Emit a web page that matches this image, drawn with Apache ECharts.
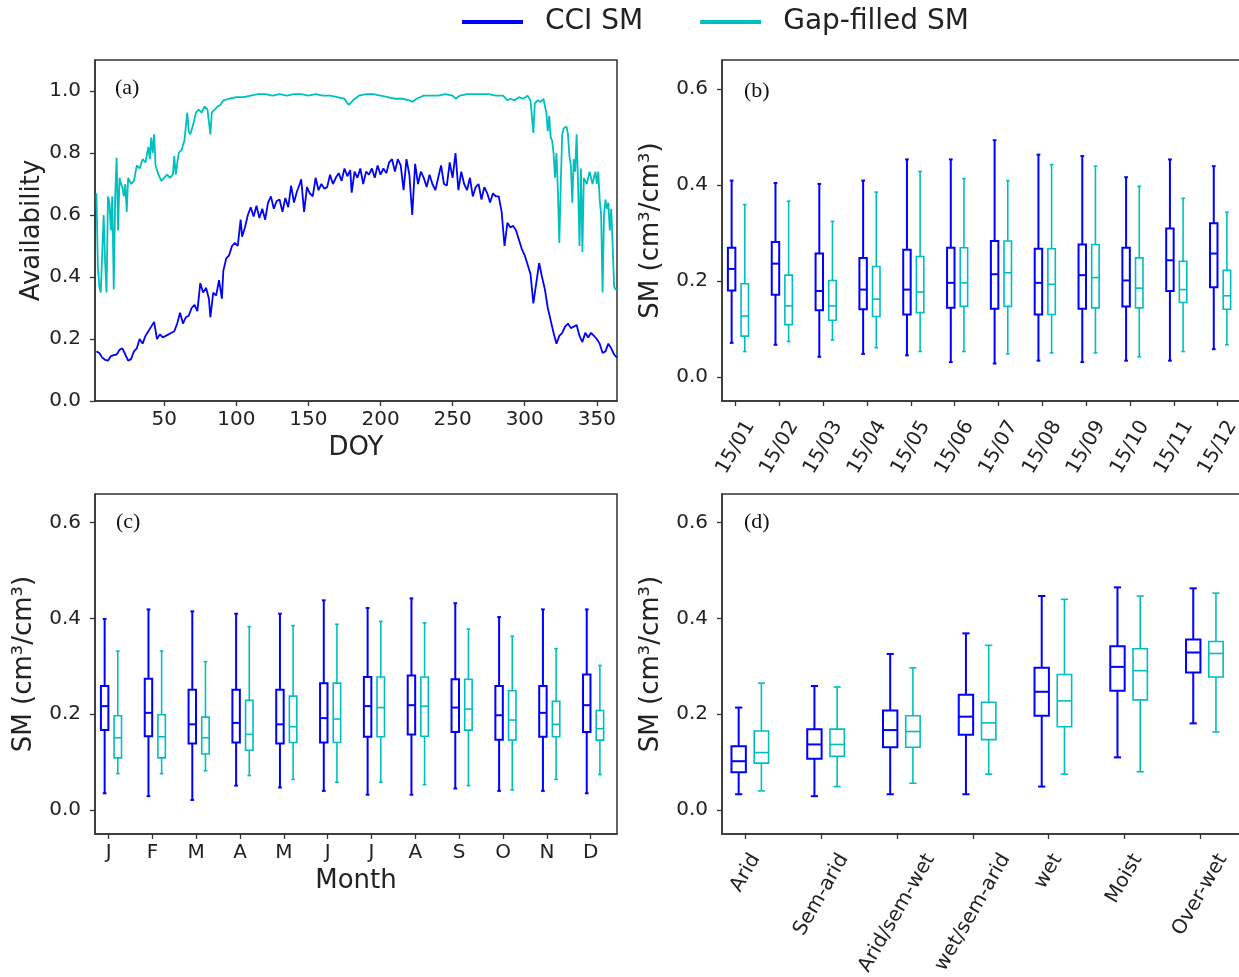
<!DOCTYPE html>
<html lang="en">
<head>
<meta charset="UTF-8">
<title>CCI SM vs Gap-filled SM</title>
<script src="https://cdn.jsdelivr.net/npm/echarts@6/dist/echarts.min.js"></script>
<style>
    html, body { margin: 0; padding: 0; background: #fff; }
    #main { width: 1239px; height: 977px; }
</style>
</head>
<body>
<div id="main"></div>

<script type="text/javascript">
    // ---- values ----
    const seriesNames = ['CCI SM', 'Gap-filled SM']

    // (a) availability per day of year, [DOY, fraction]
    const cciAvail = [
        [3, 0.16], [5, 0.155], [7, 0.14], [9, 0.133], [11, 0.13], [13, 0.145], [15, 0.148], [17, 0.15],
        [19, 0.165], [21, 0.17], [23, 0.15], [25, 0.13], [27, 0.135], [29, 0.16], [31, 0.17], [33, 0.2],
        [35, 0.185], [37, 0.21], [39, 0.225], [41, 0.24], [43, 0.255], [45, 0.2], [47, 0.215], [49, 0.205],
        [51, 0.21], [53, 0.215], [55, 0.22], [57, 0.225], [59, 0.25], [61, 0.285], [63, 0.25], [65, 0.27],
        [67, 0.275], [69, 0.3], [71, 0.31], [73, 0.29], [75, 0.38], [77, 0.35], [79, 0.365], [81, 0.33],
        [82, 0.27], [84, 0.35], [86, 0.34], [88, 0.39], [90, 0.33], [91, 0.42], [93, 0.46], [95, 0.47],
        [97, 0.5], [99, 0.51], [101, 0.5], [103, 0.585], [104, 0.53], [106, 0.56], [108, 0.6], [110, 0.625],
        [112, 0.595], [114, 0.63], [116, 0.59], [118, 0.62], [120, 0.585], [122, 0.64], [124, 0.66], [126, 0.62],
        [128, 0.645], [130, 0.65], [132, 0.61], [134, 0.655], [136, 0.625], [138, 0.695], [140, 0.64], [142, 0.675],
        [144, 0.7], [145, 0.715], [147, 0.61], [149, 0.69], [151, 0.67], [153, 0.66], [155, 0.72], [157, 0.68],
        [159, 0.7], [161, 0.685], [163, 0.69], [165, 0.73], [167, 0.7], [169, 0.72], [171, 0.735], [173, 0.71],
        [175, 0.75], [177, 0.725], [179, 0.745], [180, 0.672], [182, 0.74], [184, 0.72], [186, 0.75], [188, 0.7],
        [190, 0.74], [192, 0.73], [194, 0.75], [196, 0.72], [198, 0.76], [200, 0.73], [202, 0.75], [204, 0.735],
        [206, 0.77], [208, 0.78], [210, 0.74], [212, 0.78], [214, 0.76], [216, 0.68], [218, 0.78], [220, 0.73],
        [222, 0.6], [224, 0.765], [226, 0.7], [228, 0.74], [230, 0.72], [232, 0.69], [234, 0.73], [236, 0.7],
        [238, 0.68], [240, 0.72], [242, 0.76], [244, 0.7], [246, 0.695], [248, 0.77], [250, 0.72], [252, 0.8],
        [254, 0.68], [256, 0.74], [258, 0.7], [260, 0.68], [262, 0.72], [264, 0.66], [266, 0.69], [268, 0.7],
        [270, 0.65], [272, 0.69], [274, 0.67], [276, 0.64], [278, 0.67], [280, 0.66], [282, 0.66], [284, 0.61],
        [286, 0.5], [288, 0.575], [290, 0.56], [292, 0.565], [294, 0.55], [296, 0.52], [298, 0.49], [300, 0.47],
        [302, 0.44], [304, 0.41], [306, 0.315], [308, 0.38], [310, 0.445], [312, 0.4], [314, 0.36], [316, 0.3],
        [318, 0.26], [320, 0.22], [322, 0.185], [324, 0.21], [326, 0.22], [328, 0.24], [330, 0.25], [332, 0.235],
        [334, 0.24], [336, 0.245], [338, 0.21], [340, 0.19], [342, 0.22], [344, 0.205], [346, 0.22], [348, 0.21],
        [350, 0.2], [352, 0.185], [354, 0.155], [356, 0.16], [358, 0.185], [360, 0.17], [362, 0.15], [364, 0.14]
    ]
    const gapAvail = [
        [3, 0.67], [4, 0.43], [5, 0.37], [6, 0.35], [7, 0.35], [8, 0.6], [9, 0.45], [10, 0.35],
        [11, 0.66], [12, 0.64], [13, 0.55], [14, 0.66], [15, 0.36], [16, 0.66], [17, 0.785], [18, 0.55],
        [19, 0.72], [20, 0.7], [21, 0.69], [22, 0.66], [23, 0.7], [24, 0.61], [25, 0.72], [27, 0.7],
        [29, 0.71], [31, 0.76], [33, 0.75], [35, 0.78], [37, 0.77], [39, 0.82], [40, 0.78], [41, 0.85],
        [42, 0.8], [43, 0.86], [44, 0.76], [46, 0.73], [48, 0.71], [50, 0.72], [52, 0.73], [54, 0.72],
        [56, 0.73], [57, 0.79], [58, 0.73], [60, 0.8], [62, 0.81], [64, 0.84], [66, 0.93], [67, 0.87],
        [68, 0.86], [70, 0.89], [72, 0.93], [74, 0.94], [76, 0.93], [78, 0.95], [80, 0.94], [82, 0.86],
        [83, 0.93], [85, 0.94], [87, 0.95], [89, 0.955], [91, 0.97], [95, 0.975], [100, 0.98], [105, 0.98],
        [110, 0.985], [115, 0.99], [120, 0.99], [125, 0.985], [130, 0.99], [135, 0.985], [140, 0.99], [145, 0.99],
        [150, 0.985], [155, 0.99], [160, 0.985], [165, 0.985], [170, 0.98], [175, 0.975], [178, 0.955], [181, 0.97],
        [185, 0.985], [190, 0.99], [195, 0.99], [200, 0.985], [205, 0.98], [210, 0.975], [215, 0.975], [220, 0.97],
        [222, 0.965], [225, 0.975], [230, 0.985], [235, 0.985], [240, 0.985], [245, 0.99], [250, 0.985], [252, 0.975],
        [255, 0.985], [260, 0.99], [265, 0.99], [270, 0.99], [275, 0.99], [280, 0.985], [285, 0.985], [288, 0.97],
        [290, 0.975], [293, 0.97], [296, 0.98], [299, 0.975], [302, 0.985], [304, 0.97], [306, 0.865], [307, 0.96],
        [309, 0.97], [311, 0.965], [313, 0.975], [315, 0.93], [316, 0.87], [317, 0.92], [318, 0.85], [319, 0.84],
        [320, 0.8], [321, 0.72], [322, 0.8], [323, 0.68], [324, 0.51], [325, 0.7], [326, 0.86], [327, 0.88],
        [329, 0.885], [330, 0.86], [331, 0.79], [332, 0.76], [333, 0.64], [334, 0.78], [335, 0.74], [336, 0.86],
        [337, 0.7], [338, 0.5], [339, 0.75], [340, 0.48], [341, 0.72], [343, 0.7], [345, 0.74], [347, 0.7],
        [349, 0.74], [350, 0.7], [351, 0.74], [352, 0.65], [353, 0.6], [354, 0.35], [355, 0.6], [356, 0.65],
        [357, 0.62], [358, 0.64], [359, 0.55], [360, 0.62], [361, 0.5], [362, 0.37], [363, 0.36], [364, 0.36]
    ]

    // box statistics, each entry [min, q1, median, q3, max]
    // (b) 15th of each month
    const dateLabels = ['15/01', '15/02', '15/03', '15/04', '15/05', '15/06', '15/07', '15/08', '15/09', '15/10', '15/11', '15/12']
    const dateCci = [
        [0.071, 0.180, 0.225, 0.269, 0.409], [0.067, 0.171, 0.236, 0.281, 0.404], [0.042, 0.139, 0.179, 0.257, 0.402],
        [0.048, 0.141, 0.182, 0.248, 0.409], [0.045, 0.130, 0.182, 0.265, 0.453], [0.031, 0.144, 0.196, 0.269, 0.453],
        [0.028, 0.142, 0.214, 0.283, 0.493], [0.034, 0.130, 0.196, 0.267, 0.463], [0.031, 0.142, 0.212, 0.276, 0.460],
        [0.034, 0.147, 0.201, 0.269, 0.416], [0.034, 0.179, 0.243, 0.309, 0.453], [0.058, 0.187, 0.257, 0.320, 0.439]
    ]
    const dateGap = [
        [0.053, 0.085, 0.127, 0.194, 0.359], [0.074, 0.109, 0.148, 0.212, 0.366], [0.077, 0.118, 0.148, 0.201, 0.324],
        [0.061, 0.126, 0.162, 0.230, 0.385], [0.053, 0.134, 0.177, 0.251, 0.428], [0.053, 0.147, 0.196, 0.269, 0.413],
        [0.048, 0.147, 0.217, 0.283, 0.409], [0.050, 0.130, 0.193, 0.267, 0.442], [0.050, 0.144, 0.207, 0.276, 0.439],
        [0.042, 0.144, 0.185, 0.248, 0.397], [0.053, 0.155, 0.182, 0.241, 0.372], [0.067, 0.141, 0.169, 0.222, 0.343]
    ]

    // (c) month
    const monthLabels = ['J', 'F', 'M', 'A', 'M', 'J', 'J', 'A', 'S', 'O', 'N', 'D']
    const monthCci = [
        [0.035, 0.167, 0.217, 0.259, 0.399], [0.029, 0.154, 0.203, 0.274, 0.419], [0.021, 0.139, 0.179, 0.251, 0.415],
        [0.051, 0.141, 0.182, 0.251, 0.410], [0.047, 0.139, 0.179, 0.251, 0.410], [0.040, 0.141, 0.192, 0.265, 0.438],
        [0.032, 0.153, 0.217, 0.278, 0.422], [0.032, 0.158, 0.219, 0.281, 0.442], [0.045, 0.163, 0.214, 0.273, 0.432],
        [0.040, 0.147, 0.198, 0.259, 0.403], [0.040, 0.153, 0.203, 0.259, 0.419], [0.035, 0.163, 0.219, 0.283, 0.419]
    ]
    const monthGap = [
        [0.076, 0.109, 0.151, 0.197, 0.332], [0.076, 0.109, 0.153, 0.199, 0.332], [0.082, 0.117, 0.151, 0.194, 0.310],
        [0.072, 0.125, 0.158, 0.229, 0.383], [0.064, 0.141, 0.174, 0.238, 0.385], [0.058, 0.141, 0.190, 0.265, 0.388],
        [0.058, 0.153, 0.214, 0.278, 0.394], [0.053, 0.154, 0.217, 0.278, 0.391], [0.051, 0.167, 0.211, 0.273, 0.378],
        [0.042, 0.146, 0.188, 0.249, 0.363], [0.064, 0.153, 0.179, 0.227, 0.337], [0.074, 0.146, 0.170, 0.208, 0.302]
    ]

    // (d) climate zone
    const zoneLabels = ['Arid', 'Sem-arid', 'Arid/sem-wet', 'wet/sem-arid', 'wet', 'Moist', 'Over-wet']
    const zoneCci = [
        [0.033, 0.079, 0.102, 0.133, 0.214], [0.029, 0.107, 0.137, 0.169, 0.259], [0.033, 0.131, 0.167, 0.208, 0.326],
        [0.033, 0.157, 0.195, 0.241, 0.369], [0.049, 0.197, 0.247, 0.297, 0.447], [0.110, 0.249, 0.299, 0.342, 0.465],
        [0.181, 0.287, 0.329, 0.356, 0.463]
    ]
    const zoneGap = [
        [0.040, 0.098, 0.120, 0.165, 0.265], [0.049, 0.112, 0.137, 0.169, 0.257], [0.056, 0.131, 0.164, 0.197, 0.297],
        [0.075, 0.147, 0.182, 0.225, 0.344], [0.075, 0.174, 0.228, 0.283, 0.440], [0.080, 0.230, 0.291, 0.337, 0.447],
        [0.163, 0.278, 0.327, 0.352, 0.453]
    ]

    const doyTicks = [50, 100, 150, 200, 250, 300, 350]
    const availTicks = [0, 0.2, 0.4, 0.6, 0.8, 1.0]
    const smTicks = [0, 0.2, 0.4, 0.6]
</script>

<script type="text/javascript">
    const BLUE = '#0000ff'
    const CYAN = '#00bfbf'
    const FONT = 'DejaVu Sans'
    const TXT = '#222'
    const SPINE = '#333'
    const TICK_FONT = 20
    const ROT = 60
    const SIN = Math.sin(ROT * Math.PI / 180)
    const COS = Math.cos(ROT * Math.PI / 180)
    const SLANT_MARGIN = 36

    const chart = echarts.init(document.getElementById('main'), null, {renderer: 'canvas'})

    // one box-and-whisker glyph, drawn through the axis scales
    function boxSeries(name, stats, gi, offset, width, color, lw) {
        return {
            name: name,
            type: 'custom',
            xAxisIndex: gi,
            yAxisIndex: gi,
            itemStyle: {color: color},
            encode: {x: 0, y: [1, 2, 3, 4, 5]},
            data: stats.map((s, i) => [i].concat(s)),
            renderItem: function (params, api) {
                const x = api.value(0) + offset
                const lo = api.coord([x, api.value(1)])
                const q1 = api.coord([x, api.value(2)])
                const md = api.coord([x, api.value(3)])
                const q3 = api.coord([x, api.value(4)])
                const hi = api.coord([x, api.value(5)])
                const hw = api.size([width, 0])[0] / 2
                const cx = lo[0]
                const st = {stroke: color, lineWidth: lw, fill: 'none'}
                const seg = (x1, y1, x2, y2) => ({type: 'line', shape: {x1, y1, x2, y2}, style: st})
                return {
                    type: 'group',
                    children: [
                        {type: 'rect', shape: {x: cx - hw, y: q3[1], width: 2 * hw, height: q1[1] - q3[1]}, style: st},
                        seg(cx - hw, md[1], cx + hw, md[1]),
                        seg(cx, q3[1], cx, hi[1]),
                        seg(cx, q1[1], cx, lo[1]),
                        seg(cx - hw / 2, hi[1], cx + hw / 2, hi[1]),
                        seg(cx - hw / 2, lo[1], cx + hw / 2, lo[1])
                    ]
                }
            }
        }
    }

    // slanted labels centred under their tick (matplotlib ha=center look)
    function slanted(names) {
        const ctx = document.createElement('canvas').getContext('2d')
        ctx.font = TICK_FONT + 'px "' + FONT + '"'
        const rich = {}
        names.forEach((s, i) => {
            const L = ctx.measureText(s).width
            const d = Math.max(0, 18 + (L * SIN + 7) / 2 - SLANT_MARGIN)
            rich['t' + i] = {
                fontFamily: FONT, fontSize: TICK_FONT, color: TXT,
                padding: [2 * d * COS, 2 * d * SIN, 0, 0]
            }
        })
        return {
            rotate: ROT, align: 'center', verticalAlign: 'middle', margin: SLANT_MARGIN,
            rich: rich,
            formatter: v => '{t' + Math.round(v) + '|' + names[Math.round(v)] + '}'
        }
    }

    function tickStyle(values) {
        return {show: true, inside: false, length: 5, customValues: values, lineStyle: {color: SPINE, width: 1.3}}
    }

    const spineLine = {show: true, onZero: false, lineStyle: {color: SPINE, width: 1.5}}

    function yAxis(gi, min, max, ticks, name, gap) {
        return {
            type: 'value', gridIndex: gi, min: min, max: max,
            name: name, nameLocation: 'middle', nameGap: gap, nameMoveOverlap: false,
            nameTextStyle: {fontFamily: FONT, fontSize: 26, color: TXT},
            axisLine: spineLine, splitLine: {show: false},
            axisTick: tickStyle(ticks),
            axisLabel: {
                customValues: ticks, formatter: v => v.toFixed(1), margin: 14,
                fontFamily: FONT, fontSize: TICK_FONT, color: TXT
            }
        }
    }

    function catAxis(gi, names, max, label, name) {
        const idx = names.map((_, i) => i)
        return {
            type: 'value', gridIndex: gi, min: -0.31, max: max,
            name: name || '', nameLocation: 'middle', nameGap: 34, nameMoveOverlap: false,
            nameTextStyle: {fontFamily: FONT, fontSize: 26, color: TXT},
            axisLine: spineLine, splitLine: {show: false},
            axisTick: tickStyle(idx),
            axisLabel: Object.assign({customValues: idx, fontFamily: FONT, fontSize: TICK_FONT, color: TXT}, label)
        }
    }

    const gridBase = {show: true, borderColor: SPINE, borderWidth: 1.5, containLabel: false, outerBoundsMode: 'none'}
    const grids = [
        Object.assign({left: 95, top: 60, width: 522, height: 341}, gridBase),
        Object.assign({left: 722, top: 60, width: 522, height: 341}, gridBase),
        Object.assign({left: 95, top: 494, width: 522, height: 340}, gridBase),
        Object.assign({left: 722, top: 494, width: 522, height: 340}, gridBase)
    ]

    const smName = 'SM (cm³/cm³)'
    const option = {
        animation: false,
        backgroundColor: '#fff',
        textStyle: {fontFamily: FONT},
        legend: {
            left: 462, top: 8, padding: 0, icon: 'rect', itemWidth: 61, itemHeight: 4, itemGap: 57,
            data: [
                {name: seriesNames[0], itemStyle: {color: BLUE}},
                {name: seriesNames[1], itemStyle: {color: CYAN}}
            ],
            textStyle: {fontFamily: FONT, fontSize: 28, color: TXT, padding: [0, 0, 0, 17]}
        },
        grid: grids,
        xAxis: [
            {
                type: 'value', gridIndex: 0, min: 2, max: 364,
                name: 'DOY', nameLocation: 'middle', nameGap: 34, nameMoveOverlap: false,
                nameTextStyle: {fontFamily: FONT, fontSize: 26, color: TXT},
                axisLine: spineLine, splitLine: {show: false},
                axisTick: tickStyle(doyTicks),
                axisLabel: {customValues: doyTicks, margin: 9, fontFamily: FONT, fontSize: TICK_FONT, color: TXT}
            },
            catAxis(1, dateLabels, 11.6, slanted(dateLabels)),
            catAxis(2, monthLabels, 11.6, {margin: 9, formatter: v => monthLabels[Math.round(v)]}, 'Month'),
            catAxis(3, zoneLabels, 6.58, slanted(zoneLabels))
        ],
        yAxis: [
            yAxis(0, 0, 1.1, availTicks, 'Availability', 50),
            yAxis(1, -0.05, 0.66, smTicks, smName, 58),
            yAxis(2, -0.05, 0.66, smTicks, smName, 58),
            yAxis(3, -0.05, 0.66, smTicks, smName, 58)
        ],
        graphic: [
            {type: 'text', left: 115, top: 77, style: {text: '(a)', font: '22px "Liberation Serif"', fill: '#111'}},
            {type: 'text', left: 744, top: 80, style: {text: '(b)', font: '22px "Liberation Serif"', fill: '#111'}},
            {type: 'text', left: 116, top: 511, style: {text: '(c)', font: '22px "Liberation Serif"', fill: '#111'}},
            {type: 'text', left: 744, top: 511, style: {text: '(d)', font: '22px "Liberation Serif"', fill: '#111'}}
        ],
        series: [
            {
                name: seriesNames[1], type: 'line', xAxisIndex: 0, yAxisIndex: 0, data: gapAvail,
                showSymbol: false, lineStyle: {color: CYAN, width: 1.8}, itemStyle: {color: CYAN}
            },
            {
                name: seriesNames[0], type: 'line', xAxisIndex: 0, yAxisIndex: 0, data: cciAvail,
                showSymbol: false, lineStyle: {color: BLUE, width: 1.8}, itemStyle: {color: BLUE}
            },
            boxSeries(seriesNames[0], dateCci, 1, -0.09, 0.17, BLUE, 2),
            boxSeries(seriesNames[1], dateGap, 1, 0.21, 0.17, CYAN, 1.6),
            boxSeries(seriesNames[0], monthCci, 2, -0.09, 0.17, BLUE, 2),
            boxSeries(seriesNames[1], monthGap, 2, 0.21, 0.17, CYAN, 1.6),
            boxSeries(seriesNames[0], zoneCci, 3, -0.09, 0.19, BLUE, 2),
            boxSeries(seriesNames[1], zoneGap, 3, 0.21, 0.19, CYAN, 1.6)
        ]
    }

    chart.setOption(option)
</script>
</body>
</html>
